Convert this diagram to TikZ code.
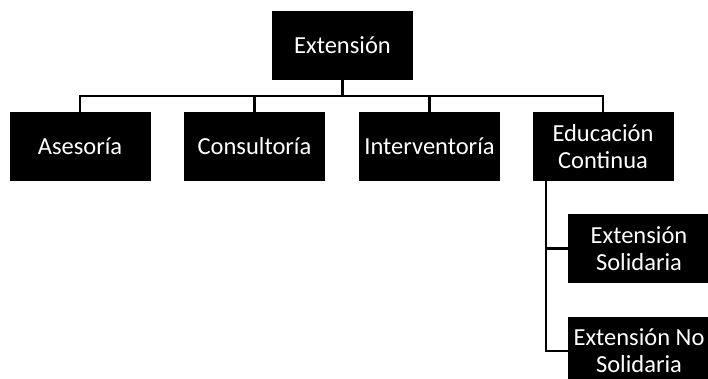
\documentclass[tikz,border=0pt]{standalone}
\usepackage{fontspec}
\setmainfont{Carlito}
\usetikzlibrary{calc}
\begin{document}
\begin{tikzpicture}[x=1pt,y=-1pt,
  box/.style={fill=black,text=white,minimum width=141pt,minimum height=69pt,inner sep=0pt,align=center,font=\fontsize{24.5}{27}\selectfont},
  conn/.style={draw=black,line width=2.2pt}]
\useasboundingbox (0,0) rectangle (708,378);
\clip (0,0) rectangle (708,378);
\node[box] (ext) at (342.5,45) {Extensión};
\node[box] (ase) at (80,146.5) {Asesoría};
\node[box] (con) at (254.5,146.5) {Consultoría};
\node[box] (int) at (429.5,146.5) {Interventoría};
\node[box] (edu) at (603,146.5) {Educación\\Continua};
\node[box,minimum width=142pt] (sol) at (639,248.5) {Extensión\\Solidaria};
\node[box,minimum width=142pt] (nos) at (639,351) {Extensión No\\Solidaria};
\coordinate (bus) at (342.5,96);
\draw[conn] (ext.south) -- (bus) -| (ase.north);
\draw[conn] (bus) -| (con.north);
\draw[conn] (bus) -| (int.north);
\draw[conn] (bus) -| (edu.north);
\coordinate (ev) at ($(edu.south west)+(14,0)$);
\draw[conn] (ev) |- (sol.west);
\draw[conn] (ev) |- (nos.west);
\end{tikzpicture}
\end{document}
